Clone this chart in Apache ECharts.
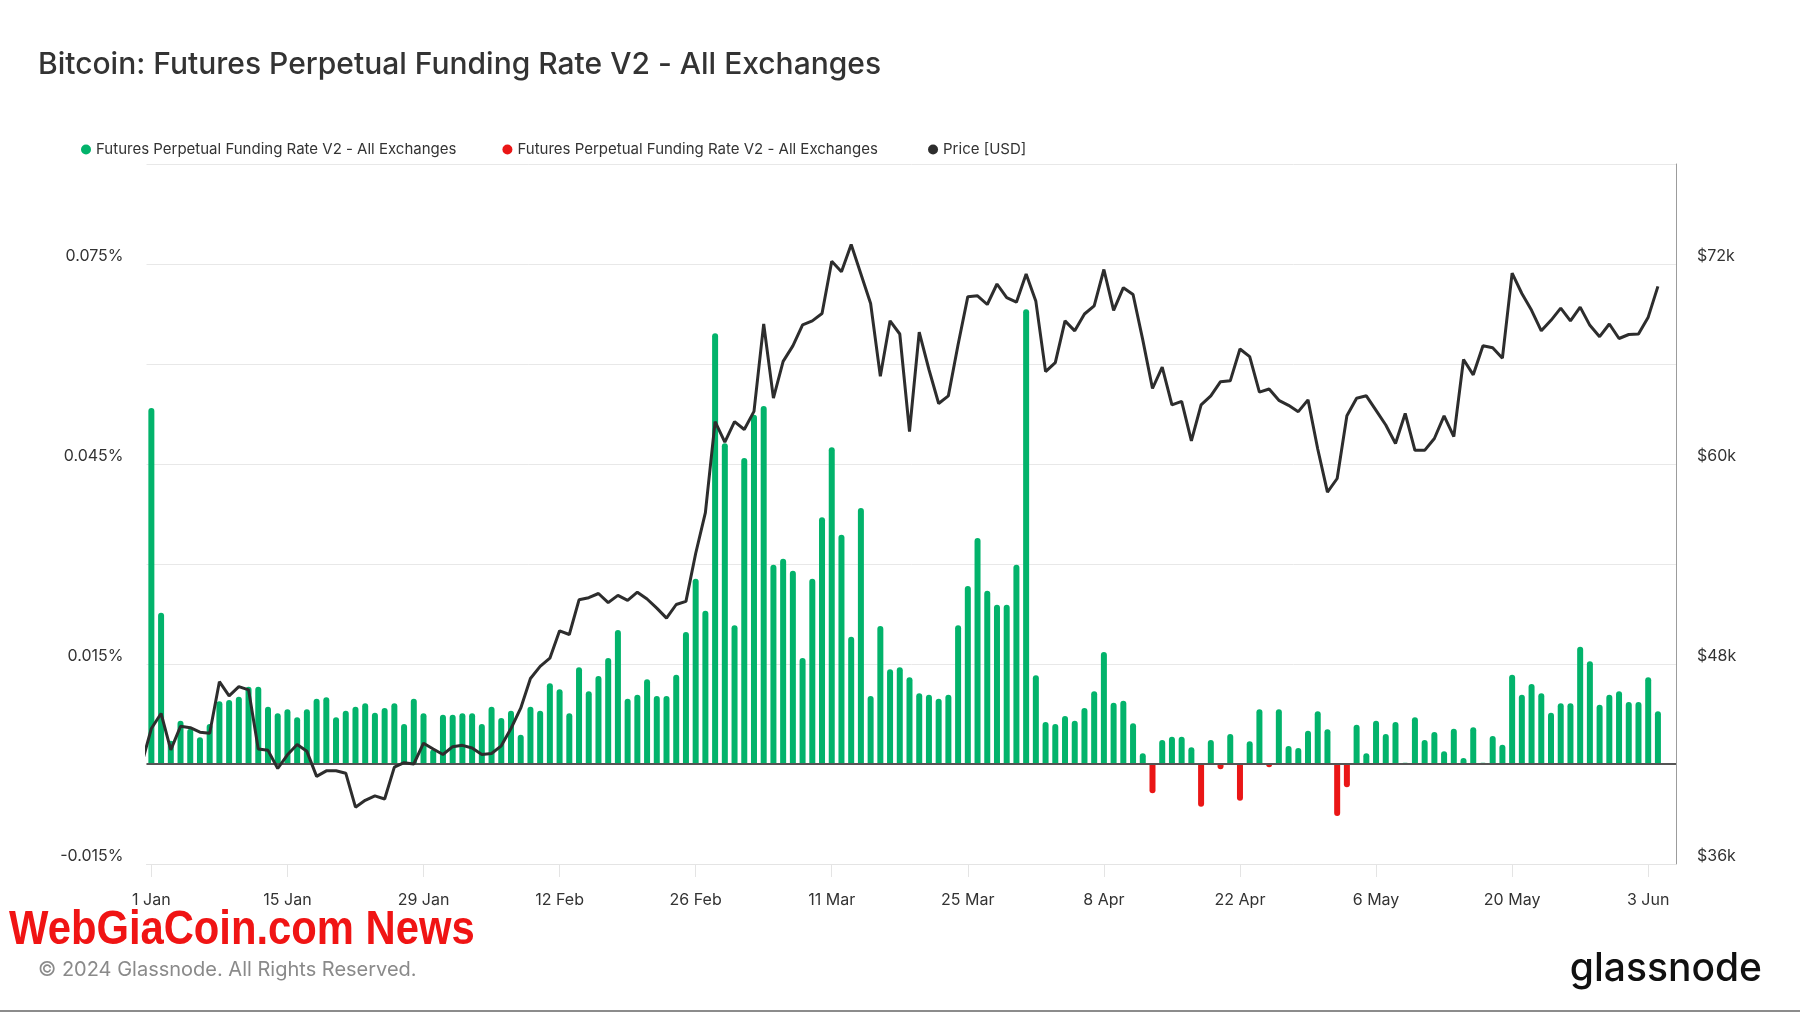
<!DOCTYPE html>
<html>
<head>
<meta charset="utf-8">
<script src="https://cdn.jsdelivr.net/npm/echarts@6/dist/echarts.min.js"></script>
<style>
  html, body { margin: 0; padding: 0; background: #ffffff; }
  #chart { width: 1800px; height: 1013px; }
</style>
</head>
<body>
<div id="chart"></div>
<script>
// Day index 0 = 1 Jan 2024
const tickDays   = [0, 14, 28, 42, 56, 70, 84, 98, 112, 126, 140, 154];
const tickLabels = ['1 Jan', '15 Jan', '29 Jan', '12 Feb', '26 Feb', '11 Mar', '25 Mar', '8 Apr', '22 Apr', '6 May', '20 May', '3 Jun'];

// Funding rate (%) per day, 1 Jan .. 4 Jun
const fundingRate = [
  0.0534, 0.0227, 0.0035, 0.0065, 0.0053, 0.0040, 0.0060, 0.0094, 0.0096, 0.0101,
  0.0116, 0.0116, 0.0086, 0.0076, 0.0082, 0.0070, 0.0082, 0.0098, 0.0100, 0.0070,
  0.0080, 0.0086, 0.0091, 0.0077, 0.0084, 0.0091, 0.0060, 0.0098, 0.0076, 0.0022,
  0.0074, 0.0074, 0.0076, 0.0076, 0.0060, 0.0086, 0.0069, 0.0080, 0.0044, 0.0086,
  0.0080, 0.0121, 0.0112, 0.0076, 0.0145, 0.0109, 0.0132, 0.0159, 0.0201, 0.0098,
  0.0104, 0.0127, 0.0102, 0.0102, 0.0134, 0.0198, 0.0278, 0.0230, 0.0646, 0.0481,
  0.0208, 0.0459, 0.0524, 0.0537, 0.0299, 0.0308, 0.0290, 0.0159, 0.0278, 0.0370,
  0.0475, 0.0344, 0.0191, 0.0384, 0.0102, 0.0207, 0.0142, 0.0145, 0.0130, 0.0106,
  0.0104, 0.0098, 0.0104, 0.0208, 0.0267, 0.0339, 0.0260, 0.0239, 0.0239, 0.0299,
  0.0682, 0.0133, 0.0063, 0.0060, 0.0072, 0.0065, 0.0084, 0.0109, 0.0168, 0.0092,
  0.0095, 0.0061, 0.0016, -0.0044, 0.0036, 0.0041, 0.0041, 0.0025, -0.0064, 0.0036,
  -0.0008, 0.0045, -0.0055, 0.0034, 0.0082, -0.0005, 0.0082, 0.0027, 0.0024, 0.0050,
  0.0079, 0.0052, -0.0078, -0.0035, 0.0059, 0.0016, 0.0065, 0.0045, 0.0063, 0.0002,
  0.0070, 0.0036, 0.0048, 0.0019, 0.0053, 0.0009, 0.0055, 0.0002, 0.0042, 0.0029,
  0.0134, 0.0104, 0.0120, 0.0106, 0.0077, 0.0091, 0.0091, 0.0176, 0.0154, 0.0089,
  0.0104, 0.0109, 0.0093, 0.0093, 0.0130, 0.0079
];

// BTC price (USD) per day, starting 31 Dec 2023 (day -1) .. 4 Jun
const priceStartDay = -1;
const priceUSD = [
  42000,
  44130, 45030, 42850, 44260, 44180, 43910, 43850, 46940, 46090, 46640,
  46450, 42900, 42820, 41730, 42550, 43170, 42760, 41260, 41590, 41590,
  41450, 39410, 39820, 40090, 39900, 41810, 42080, 42000, 43250, 42900,
  42570, 43040, 43120, 42960, 42570, 42630, 43090, 44130, 45350, 47130,
  47860, 48350, 49990, 49770, 51850, 51980, 52230, 51680, 52120, 51820,
  52310, 51900, 51350, 50750, 51570, 51760, 54630, 57080, 62540, 61310,
  62540, 62070, 63160, 68400, 63950, 66160, 67090, 68350, 68590, 69030,
  72160, 71540, 73170, 71400, 69630, 65260, 68590, 67800, 61950, 67910,
  65670, 63630, 64090, 67170, 70040, 70090, 69570, 70800, 69980, 69710,
  71400, 69760, 65540, 66080, 68590, 67990, 69000, 69490, 71670, 69220,
  70580, 70170, 67450, 64530, 65810, 63550, 63760, 61390, 63550, 64090,
  64940, 64990, 66900, 66440, 64310, 64500, 63820, 63520, 63140, 63850,
  60900, 58310, 59130, 62890, 63950, 64090, 63220, 62340, 61230, 63030,
  60820, 60820, 61530, 62890, 61640, 66270, 65350, 67090, 66980, 66350,
  71450, 70230, 69220, 67990, 68620, 69350, 68590, 69410, 68320, 67640,
  68400, 67530, 67770, 67800, 68810, 70660
];

const seriesName = 'Futures Perpetual Funding Rate V2 - All Exchanges';
const priceName = 'Price [USD]';

const greenBars = fundingRate.map((v, i) => [i, v >= 0 ? v : null]);
const redBars = fundingRate.map((v, i) => [i, v < 0 ? v : null]);
const priceLine = priceUSD.map((v, i) => [i + priceStartDay, v]);

const FONT = 'Inter, "Noto Sans", sans-serif';
const chart = echarts.init(document.getElementById('chart'), null, { renderer: 'canvas' });

chart.setOption({
  animation: false,
  backgroundColor: '#ffffff',
  title: {
    text: 'Bitcoin: Futures Perpetual Funding Rate V2 - All Exchanges',
    left: 33,
    top: 45,
    textStyle: { fontFamily: FONT, fontSize: 30, fontWeight: 500, color: '#333333' }
  },
  legend: {
    left: 76,
    top: 137,
    icon: 'circle',
    itemWidth: 10,
    itemHeight: 10,
    itemGap: 46,
    textStyle: { fontFamily: FONT, fontSize: 15, color: '#333333' },
    data: [seriesName, seriesName + ' ', priceName]
  },
  grid: { left: 146.5, right: 124, top: 164, bottom: 149, containLabel: false },
  xAxis: {
    type: 'value',
    min: -0.5,
    max: 156.86,
    axisLine: { show: true, onZero: false, lineStyle: { color: '#e4e4e4', width: 1 } },
    axisTick: { show: true, length: 13, customValues: tickDays, lineStyle: { color: '#e4e4e4' } },
    axisLabel: {
      customValues: tickDays,
      margin: 28,
      fontFamily: FONT,
      fontSize: 16,
      color: '#333333',
      formatter: function (v) {
        const k = tickDays.indexOf(Math.round(v));
        return k >= 0 ? tickLabels[k] : '';
      }
    },
    splitLine: { show: false }
  },
  yAxis: [
    {
      type: 'value',
      min: -0.015,
      max: 0.09,
      interval: 0.015,
      axisLine: { show: false },
      axisTick: { show: false },
      splitLine: { show: true, lineStyle: { color: '#e8e8e8', width: 1 } },
      axisLabel: {
        margin: 23,
        fontFamily: FONT,
        fontSize: 16,
        color: '#333333',
        verticalAlign: 'bottom',
        lineHeight: 16,
        formatter: function (v) {
          const k = Math.round((v + 0.015) / 0.015);
          if (k % 2 !== 0 || k > 6) return '';
          return v.toFixed(3) + '%';
        }
      }
    },
    {
      type: 'value',
      position: 'right',
      min: 36000,
      max: 78000,
      interval: 6000,
      axisLine: { show: true, lineStyle: { color: '#9c9c9c', width: 1 } },
      axisTick: { show: false },
      splitLine: { show: false },
      axisLabel: {
        margin: 21,
        fontFamily: FONT,
        fontSize: 16,
        color: '#333333',
        verticalAlign: 'bottom',
        lineHeight: 16,
        formatter: function (v) {
          const k = Math.round((v - 36000) / 6000);
          if (k % 2 !== 0 || k > 6) return '';
          return '$' + Math.round(v / 1000) + 'k';
        }
      }
    }
  ],
  series: [
    {
      name: seriesName,
      type: 'bar',
      yAxisIndex: 0,
      barWidth: 6,
      barGap: '-100%',
      itemStyle: { color: '#02b36b', borderRadius: [3, 3, 0, 0] },
      data: greenBars,
      markLine: {
        silent: true,
        symbol: ['none', 'none'],
        label: { show: false },
        lineStyle: { color: '#555555', width: 2, type: 'solid' },
        data: [{ yAxis: 0 }],
        z: 5
      }
    },
    {
      name: seriesName + ' ',
      type: 'bar',
      yAxisIndex: 0,
      barWidth: 6,
      barGap: '-100%',
      itemStyle: { color: '#ea1616', borderRadius: [0, 0, 3, 3] },
      data: redBars
    },
    {
      name: priceName,
      type: 'line',
      yAxisIndex: 1,
      symbol: 'none',
      z: 10,
      itemStyle: { color: '#2d2d2d' },
      lineStyle: { color: '#2d2d2d', width: 3 },
      data: priceLine
    }
  ],
  graphic: [
    {
      type: 'text',
      x: 9,
      y: 931,
      scaleX: 0.87,
      style: {
        text: 'WebGiaCoin.com News',
        font: 'bold 48px "Liberation Sans", Arial, sans-serif',
        fill: '#f01414',
        verticalAlign: 'middle',
        textVerticalAlign: 'middle'
      }
    },
    {
      type: 'text',
      x: 38,
      y: 970,
      style: {
        text: '© 2024 Glassnode. All Rights Reserved.',
        font: '20px Inter, "Noto Sans", sans-serif',
        fill: '#8a8a8a',
        verticalAlign: 'middle',
        textVerticalAlign: 'middle'
      }
    },
    {
      type: 'text',
      x: 1762,
      y: 969,
      style: {
        text: 'glassnode',
        font: '500 39px Inter, "Noto Sans", sans-serif',
        fill: '#111111',
        align: 'right',
        textAlign: 'right',
        verticalAlign: 'middle',
        textVerticalAlign: 'middle'
      }
    },
    {
      type: 'line',
      shape: { x1: 0, y1: 1011, x2: 1800, y2: 1011 },
      style: { stroke: '#8c8c8c', lineWidth: 2 }
    }
  ]
});
</script>
</body>
</html>
